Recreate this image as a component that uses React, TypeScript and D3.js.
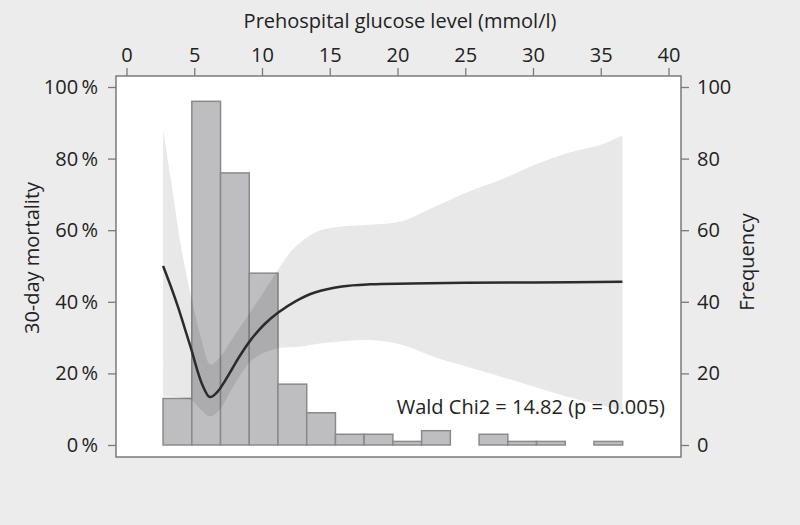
import React, { useEffect, useRef } from "react";
import * as d3 from "d3";

// histogram of prehospital glucose (bin start, mmol/l) and counts
const binStarts = [2.7, 4.82, 6.94, 9.06, 11.18, 13.3, 15.42, 17.54, 19.66, 21.78, 23.9, 26.02, 28.14, 30.26, 32.38, 34.5];
const binWidth = 2.12;
const counts = [13, 96, 76, 48, 17, 9, 3, 3, 1, 4, 0, 3, 1, 1, 0, 1];

// fitted 30-day mortality (%)
const curveX = [2.7, 3.3, 3.8, 4.3, 4.8, 5.2, 5.6, 6.15, 6.7, 7.2, 7.8, 8.3, 9.2, 10.2, 11.2, 12.5, 13.9, 15.9, 18, 21, 25, 30, 36.6];
const curveY = [50, 44, 38.6, 32.6, 26.5, 21.2, 16.8, 13.4, 14.8, 17.5, 21.3, 24.5, 29.5, 33.8, 37, 40.2, 42.6, 44.3, 44.9, 45.1, 45.3, 45.4, 45.6];

// 95% confidence band (%)
const bandX = [2.7, 3.3, 4.0, 4.8, 5.5, 6.2, 7.0, 7.6, 8.4, 9.2, 10.0, 11.2, 12.0, 12.9, 14.0, 15.4, 17.9, 20.3, 22.7, 25.2, 27.7, 30.1, 32.6, 35.1, 36.6];
const bandUpper = [88, 73.5, 56, 41, 30, 22.5, 25, 28.5, 33, 37.5, 42, 49, 53.5, 56.8, 59.5, 60.8, 61.5, 62.5, 66.5, 70.7, 74.2, 78.2, 81.6, 84, 86.5];
const bandLower = [13.5, 13.5, 13.3, 12.5, 9.8, 8, 10.5, 14.5, 19.5, 23.5, 25.5, 27, 27.3, 27.5, 28.2, 28.8, 29.3, 28, 24.6, 21.8, 19, 16.2, 13.4, 11, 9.5];

const xTicks = [0, 5, 10, 15, 20, 25, 30, 35, 40];
const mortTicks = [0, 20, 40, 60, 80, 100];
const freqTicks = [0, 20, 40, 60, 80, 100];

const FONT = "'Open Sans', sans-serif";

export default function App() {
  const ref = useRef<SVGSVGElement>(null);

  useEffect(() => {
    const width = 800;
    const height = 525;
    const box = { left: 116, right: 681, top: 76, bottom: 457 };

    const svg = d3.select(ref.current);
    svg.selectAll("*").remove();

    svg.append("rect").attr("width", width).attr("height", height).attr("fill", "#ececec");

    const x = d3.scaleLinear().domain([0, 40]).range([126.5, 668.5]);
    const yM = d3.scaleLinear().domain([0, 100]).range([445, 87]);
    const yF = d3.scaleLinear().domain([0, 100]).range([445, 87]);

    svg
      .append("rect")
      .attr("x", box.left)
      .attr("y", box.top)
      .attr("width", box.right - box.left)
      .attr("height", box.bottom - box.top)
      .attr("fill", "#fff");

    // histogram
    const bins = binStarts.map((s, i) => ({ s, n: counts[i] }));
    svg
      .append("g")
      .selectAll("rect")
      .data(bins.filter(d => d.n > 0))
      .enter()
      .append("rect")
      .attr("x", d => x(d.s))
      .attr("y", d => yF(d.n))
      .attr("width", d => x(d.s + binWidth) - x(d.s))
      .attr("height", d => yF(0) - yF(d.n))
      .attr("fill", "#bebec0")
      .attr("stroke", "#8a8a8c")
      .attr("stroke-width", 1.5);

    // confidence band
    const band = bandX.map((v, i) => ({ x: v, lo: bandLower[i], hi: bandUpper[i] }));
    const area = d3
      .area<{ x: number; lo: number; hi: number }>()
      .x(d => x(d.x))
      .y0(d => yM(d.lo))
      .y1(d => yM(d.hi))
      .curve(d3.curveCatmullRom.alpha(0.5));
    svg.append("path").attr("d", area(band)).attr("fill", "#000").attr("fill-opacity", 0.09);

    // fitted curve
    const pts = curveX.map((v, i) => [v, curveY[i]] as [number, number]);
    const line = d3
      .line<[number, number]>()
      .x(d => x(d[0]))
      .y(d => yM(d[1]))
      .curve(d3.curveCatmullRom.alpha(0.5));
    svg
      .append("path")
      .attr("d", line(pts))
      .attr("fill", "none")
      .attr("stroke", "#2b2b2b")
      .attr("stroke-width", 2.5);

    // frame
    svg
      .append("rect")
      .attr("x", box.left)
      .attr("y", box.top)
      .attr("width", box.right - box.left)
      .attr("height", box.bottom - box.top)
      .attr("fill", "none")
      .attr("stroke", "#7a7a7a")
      .attr("stroke-width", 1.5);

    const styleAxis = (g: d3.Selection<SVGGElement, unknown, null, undefined>) => {
      g.select(".domain").remove();
      g.selectAll("line").attr("stroke", "#7a7a7a").attr("stroke-width", 1.3);
      g.selectAll("text").attr("fill", "#222").style("font-family", FONT).style("font-size", "20px");
    };

    svg
      .append("g")
      .attr("transform", `translate(0,${box.top})`)
      .call(d3.axisTop(x).tickValues(xTicks).tickSize(8).tickPadding(6))
      .call(styleAxis);

    svg
      .append("g")
      .attr("transform", `translate(${box.left},0)`)
      .call(d3.axisLeft(yM).tickValues(mortTicks).tickSize(8).tickPadding(10).tickFormat(d => `${d}\u2009%`))
      .call(styleAxis);

    svg
      .append("g")
      .attr("transform", `translate(${box.right},0)`)
      .call(d3.axisRight(yF).tickValues(freqTicks).tickSize(8).tickPadding(8))
      .call(styleAxis);

    const label = (t: string) =>
      svg.append("text").text(t).attr("fill", "#222").style("font-family", FONT).style("font-size", "20px");

    label("Prehospital glucose level (mmol/l)").attr("x", 400).attr("y", 28).attr("text-anchor", "middle");
    label("30-day mortality")
      .attr("text-anchor", "middle")
      .attr("transform", "translate(39,258) rotate(-90)");
    label("Frequency")
      .attr("text-anchor", "middle")
      .attr("transform", "translate(754,262) rotate(-90)");
    label("Wald Chi2 = 14.82 (p = 0.005)").attr("x", 665).attr("y", 414).attr("text-anchor", "end");
  }, []);

  return <svg ref={ref} width={800} height={525} style={{ position: "absolute", left: 0, top: 0 }} />;
}
